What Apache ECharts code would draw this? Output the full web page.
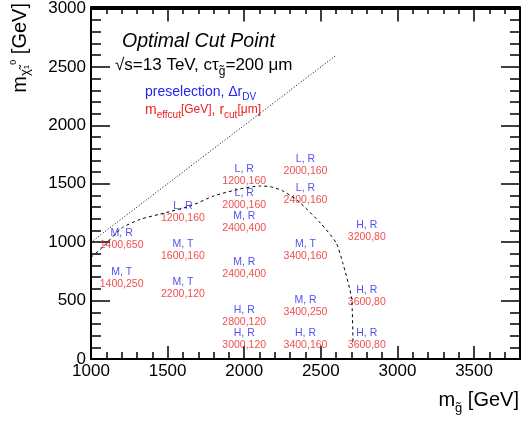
<!DOCTYPE html>
<html>
<head>
<meta charset="utf-8">
<script src="https://cdn.jsdelivr.net/npm/echarts@6/dist/echarts.min.js"></script>
<style>
html, body { margin: 0; padding: 0; background: #fff; }
#chart { width: 523px; height: 421px; }
</style>
</head>
<body>
<div id="chart"></div>
<script>
// label anchor points (gluino mass, neutralino mass)
const ptGluino = [1200, 1200, 1600, 1600, 1600, 2000, 2000, 2000, 2000, 2000, 2000, 2400, 2400, 2400, 2400, 2400, 2800, 2800, 2800];
const ptNeutralino = [1025, 695, 1255, 933, 609, 1577, 1372, 1168, 776, 366, 170, 1658, 1415, 933, 452, 170, 1091, 537, 170];
const ptSelection = ['M, R', 'M, T', 'L, R', 'M, T', 'M, T', 'L, R', 'L, R', 'M, R', 'M, R', 'H, R', 'H, R', 'L, R', 'L, R', 'M, T', 'M, R', 'H, R', 'H, R', 'H, R', 'H, R'];
const ptCut = ['1400,650', '1400,250', '1200,160', '1600,160', '2200,120', '1200,160', '2000,160', '2400,400', '2400,400', '2800,120', '3000,120', '2000,160', '2400,160', '3400,160', '3400,250', '3400,160', '3200,80', '3600,80', '3600,80'];

// dashed contour
const curveX = [1000, 1070, 1200, 1320, 1450, 1650, 1800, 1970, 2100, 2170, 2250, 2350, 2500, 2600, 2645, 2700, 2710];
const curveY = [870, 950, 1120, 1195, 1240, 1310, 1395, 1455, 1480, 1475, 1440, 1355, 1160, 995, 815, 525, 130];

// dotted diagonal
const diagX = [1000, 2600];
const diagY = [1000, 2600];

// axis ticks
const xMajor = 500, xMinor = 100;
const yMajor = 500;

const font = 'Liberation Sans, Arial, Helvetica, sans-serif';
const blue = '#2424f0';
const red = '#ee2020';

const chart = echarts.init(document.getElementById('chart'));

const gridRect = { left: 91, right: 3, top: 7, bottom: 62 };
const tickStyle = { color: '#000', width: 1.5 };

function xAxisDef(grid, pos, interval, len, labels) {
  return {
    type: 'value', gridIndex: grid, position: pos,
    min: 1000, max: 3800, interval: interval,
    axisLine: { show: labels || pos === 'top', onZero: false, lineStyle: { color: '#000', width: 2 } },
    axisTick: { show: true, inside: true, length: len, lineStyle: tickStyle },
    axisLabel: { show: labels, showMaxLabel: false, margin: 4, color: '#000', fontSize: 17, fontFamily: font, formatter: v => String(v) },
    splitLine: { show: false }
  };
}

function yAxisDef(grid, pos, labels, show) {
  return {
    type: 'value', gridIndex: grid, position: pos, show: show,
    min: 0, max: 3000, interval: yMajor,
    axisLine: { show: true, onZero: false, lineStyle: { color: '#000', width: 2 } },
    axisTick: { show: true, inside: true, length: 19, lineStyle: tickStyle },
    minorTick: { show: true, splitNumber: 5, length: 10, lineStyle: tickStyle },
    axisLabel: { show: labels, margin: 5, color: '#000', fontSize: 17, fontFamily: font, formatter: v => String(v) },
    splitLine: { show: false }
  };
}

const pointData = ptGluino.map((g, i) => ({
  value: [g, ptNeutralino[i]],
  sel: ptSelection[i],
  cut: ptCut[i]
}));

const option = {
  animation: false,
  backgroundColor: '#fff',
  grid: [gridRect, gridRect],
  xAxis: [
    xAxisDef(0, 'bottom', xMajor, 13, true),
    xAxisDef(0, 'top', xMajor, 13, false),
    xAxisDef(1, 'bottom', xMinor, 7, false),
    xAxisDef(1, 'top', xMinor, 7, false)
  ],
  yAxis: [
    yAxisDef(0, 'left', true, true),
    yAxisDef(0, 'right', false, true),
    yAxisDef(1, 'left', false, false)
  ],
  series: [
    {
      type: 'line', xAxisIndex: 0, yAxisIndex: 0,
      data: diagX.map((x, i) => [x, diagY[i]]),
      symbol: 'none',
      lineStyle: { color: '#000', width: 1, type: [1, 2] }
    },
    {
      type: 'line', xAxisIndex: 0, yAxisIndex: 0,
      data: curveX.map((x, i) => [x, curveY[i]]),
      symbol: 'none', smooth: 0.2,
      lineStyle: { color: '#000', width: 1, type: [3, 3] }
    },
    {
      type: 'scatter', xAxisIndex: 0, yAxisIndex: 0,
      data: pointData,
      symbolSize: 0,
      label: {
        show: true, position: 'inside',
        formatter: p => '{b|' + p.data.sel + '}\n{r|' + p.data.cut + '}',
        rich: {
          b: { color: blue, fontSize: 10.5, fontFamily: font, lineHeight: 12, align: 'center' },
          r: { color: red, fontSize: 10.5, fontFamily: font, lineHeight: 12, align: 'center' }
        }
      }
    }
  ],
  graphic: [
    {
      type: 'text', x: 122, y: 42,
      style: { text: 'Optimal Cut Point', fill: '#000', font: 'italic 19.5px ' + font, textVerticalAlign: 'middle' }
    },
    {
      type: 'text', x: 115, y: 65,
      style: {
        text: '{n|√s=13 TeV, cτ}{s|g̃}{n|=200 μm}',
        textVerticalAlign: 'middle',
        rich: {
          n: { fontSize: 17, fontFamily: font, fill: '#000', lineHeight: 26 },
          s: { fontSize: 12, fontFamily: font, fill: '#000', verticalAlign: 'bottom', lineHeight: 26 }
        }
      }
    },
    {
      type: 'text', x: 145, y: 92,
      style: {
        text: '{n|preselection, Δr}{s|DV}',
        textVerticalAlign: 'middle',
        rich: {
          n: { fontSize: 14, fontFamily: font, fill: blue, lineHeight: 20 },
          s: { fontSize: 10, fontFamily: font, fill: blue, verticalAlign: 'bottom', lineHeight: 20 }
        }
      }
    },
    {
      type: 'text', x: 145, y: 110,
      style: {
        text: '{n|m}{s|effcut}{u|[GeV]}{n|, r}{s|cut}{u|[μm]}',
        textVerticalAlign: 'middle',
        rich: {
          n: { fontSize: 14, fontFamily: font, fill: red, lineHeight: 20 },
          s: { fontSize: 10, fontFamily: font, fill: red, verticalAlign: 'bottom', lineHeight: 20 },
          u: { fontSize: 12, fontFamily: font, fill: red, lineHeight: 20 }
        }
      }
    },
    {
      type: 'text', x: 519, y: 400,
      style: {
        text: '{n|m}{s|g̃}{n| [GeV]}',
        textAlign: 'right', textVerticalAlign: 'middle',
        rich: {
          n: { fontSize: 20, fontFamily: font, fill: '#000', lineHeight: 30 },
          s: { fontSize: 13, fontFamily: font, fill: '#000', verticalAlign: 'bottom', lineHeight: 30 }
        }
      }
    },
    {
      type: 'text', x: 20, y: 3, rotation: Math.PI / 2,
      style: {
        text: '{n|m}{s|χ̃}{ss|1}{u|0}{n| [GeV]}',
        textAlign: 'right', textVerticalAlign: 'middle',
        rich: {
          n: { fontSize: 20, fontFamily: font, fill: '#000', lineHeight: 26, verticalAlign: 'middle' },
          s: { fontSize: 13, fontFamily: font, fill: '#000', verticalAlign: 'middle', padding: [10, 0, 0, 0] },
          ss: { fontSize: 8, fontFamily: font, fill: '#000', verticalAlign: 'middle', padding: [14, 0, 0, 0] },
          u: { fontSize: 9, fontFamily: font, fill: '#000', verticalAlign: 'middle', padding: [0, 0, 12, 0] }
        }
      }
    }
  ]
};

chart.setOption(option);
</script>
</body>
</html>
